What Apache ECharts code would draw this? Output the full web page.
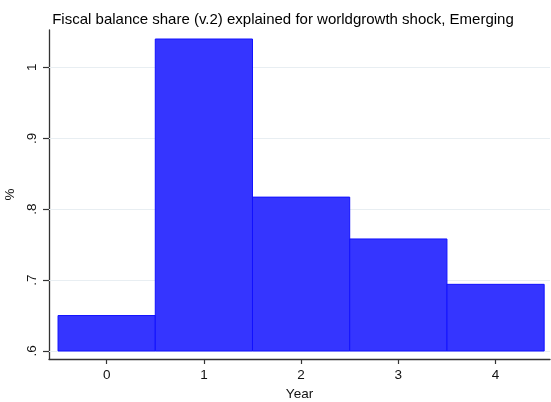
<!DOCTYPE html>
<html><head><meta charset="utf-8">
<script src="https://cdn.jsdelivr.net/npm/echarts@6/dist/echarts.min.js"></script>
<style>html,body{margin:0;padding:0;background:#fff}#c{width:551px;height:402px}</style>
</head><body><div id="c"></div>
<script>
const years = [0, 1, 2, 3, 4];
const shares = [0.650, 1.040, 0.817, 0.758, 0.694];
const yTicks = [0.6, 0.7, 0.8, 0.9, 1.0];
const yTickLabels = ['.6', '.7', '.8', '.9', '1'];
const barBase = 0.6;

const chart = echarts.init(document.getElementById('c'));
const font = 'Liberation Sans, Arial, sans-serif';
chart.setOption({
  animation: false,
  title: {
    text: 'Fiscal balance share (v.2) explained for worldgrowth shock, Emerging',
    left: 278, top: 7, textAlign: 'center',
    textStyle: {fontFamily: font, fontSize: 15, fontWeight: 'normal', color: '#000'}
  },
  grid: {left: 49, right: 1, top: 30, bottom: 43, containLabel: false, outerBoundsMode: 'none'},
  xAxis: {
    type: 'value', min: -0.593, max: 4.56,
    name: 'Year', nameLocation: 'middle', nameGap: 26,
    nameTextStyle: {fontFamily: font, fontSize: 13.5, color: '#111'},
    axisLine: {show: true, onZero: false, lineStyle: {color: '#333', width: 1.3}},
    axisTick: {show: true, length: 5, customValues: years, lineStyle: {color: '#333', width: 1.2}},
    axisLabel: {customValues: years, fontFamily: font, fontSize: 13.5, color: '#111', margin: 9,
      formatter: v => String(v)},
    splitLine: {show: false}
  },
  yAxis: {
    type: 'value', min: 0.5887, max: 1.0527,
    name: '%', nameLocation: 'middle', nameGap: 27, nameRotate: 90,
    nameTextStyle: {fontFamily: font, fontSize: 13.5, color: '#111'},
    axisLine: {show: true, onZero: false, lineStyle: {color: '#333', width: 1.3}},
    axisTick: {show: true, length: 6, customValues: yTicks, lineStyle: {color: '#333', width: 1.2}},
    axisLabel: {customValues: yTicks, rotate: 90, fontFamily: font, fontSize: 13.5, color: '#111', margin: 10,
      formatter: v => { const i = yTicks.findIndex(t => Math.abs(t - v) < 1e-6); return i >= 0 ? yTickLabels[i] : ''; }},
    splitLine: {show: false}
  },
  series: [{
    type: 'line', data: [], z: 1,
    markLine: {
      silent: true, symbol: 'none', label: {show: false},
      lineStyle: {color: '#e8eef2', width: 1, type: 'solid'},
      data: yTicks.map(t => ({yAxis: t}))
    }
  }, {
    type: 'custom',
    data: years.map((y, i) => [y, shares[i]]),
    renderItem: function (params, api) {
      const x = api.value(0), v = api.value(1);
      const p0 = api.coord([x - 0.5, barBase]);
      const p1 = api.coord([x + 0.5, v]);
      return {
        type: 'rect',
        shape: {x: p0[0], y: p1[1], width: p1[0] - p0[0], height: p0[1] - p1[1]},
        style: {fill: '#3535ff', stroke: '#1212ff', lineWidth: 1}
      };
    },
    z: 5
  }]
});
</script></body></html>
